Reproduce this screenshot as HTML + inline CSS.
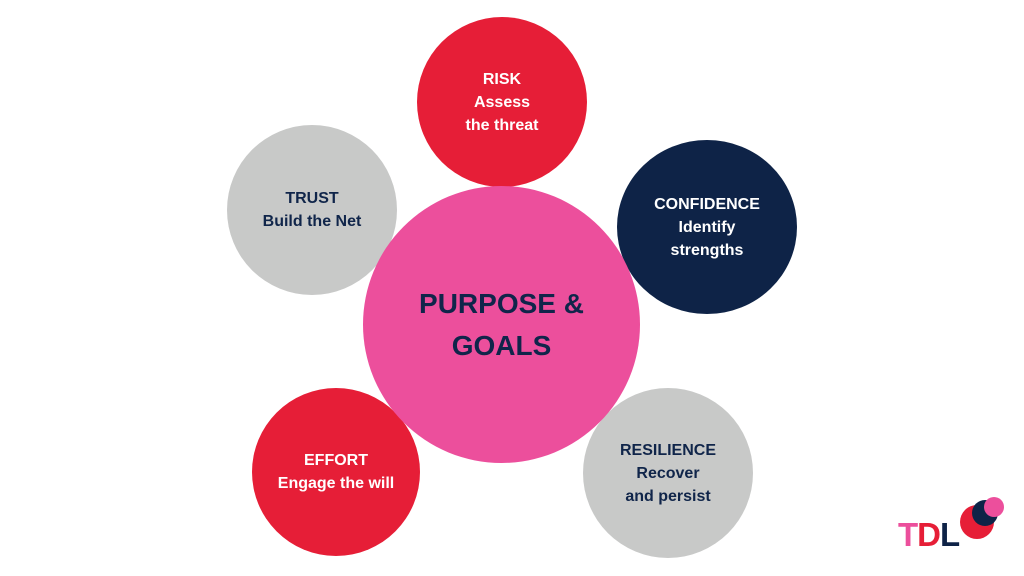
<!DOCTYPE html>
<html><head><style>
body{margin:0;width:1024px;height:576px;background:#fff;position:relative;overflow:hidden;font-family:"Liberation Sans",sans-serif;font-weight:bold}
.c{position:absolute;border-radius:50%;display:flex;align-items:center;justify-content:center;text-align:center;font-size:16px;line-height:23px}
</style></head><body>
<div class="c" style="left:417px;top:17px;width:170px;height:170px;background:#e61e37;color:#fff">RISK<br>Assess<br>the threat</div>
<div class="c" style="left:227px;top:125px;width:170px;height:170px;background:#c8c9c8;color:#10254a">TRUST<br>Build the Net</div>
<div class="c" style="left:617px;top:140px;width:180px;height:174px;background:#0e2347;color:#fff">CONFIDENCE<br>Identify<br>strengths</div>
<div class="c" style="left:252px;top:388px;width:168px;height:168px;background:#e61e37;color:#fff">EFFORT<br>Engage the will</div>
<div class="c" style="left:583px;top:388px;width:170px;height:170px;background:#c8c9c8;color:#10254a">RESILIENCE<br>Recover<br>and persist</div>
<div class="c" style="left:363px;top:186px;width:277px;height:277px;background:#ec4f9c;color:#10254a;font-size:28px;line-height:42px">PURPOSE &amp;<br>GOALS</div>
<div style="position:absolute;left:960px;top:505px;width:34px;height:34px;border-radius:50%;background:#e61e37"></div>
<div style="position:absolute;left:972px;top:500px;width:26px;height:26px;border-radius:50%;background:#0e2347"></div>
<div style="position:absolute;left:984px;top:497px;width:20px;height:20px;border-radius:50%;background:#ec4f9c"></div>
<div style="position:absolute;left:898px;top:518px;font-size:33px;line-height:34px;letter-spacing:-1px"><span style="color:#ec4f9c">T</span><span style="color:#e61e37">D</span><span style="color:#0e2347">L</span></div>
</body></html>
